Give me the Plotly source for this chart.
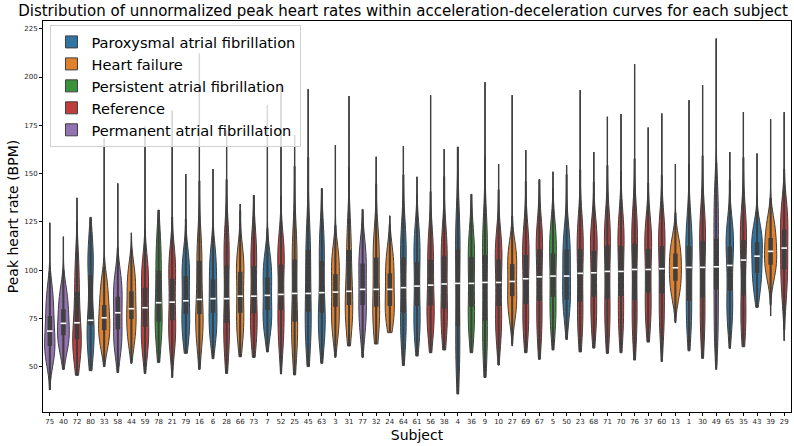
import plotly.graph_objects as go

subjects = ["75","40","72","80","33","58","44","59","78","21","79","16","6","28","66","73","7","52","25","45",
            "63","3","31","77","32","24","64","61","56","38","4","36","9","10","27","69","67","5","50","23",
            "68","71","70","76","37","60","13","1","30","49","65","35","43","39","29"]

# P=Paroxysmal AF, H=Heart failure, S=Persistent AF, R=Reference, M=Permanent AF
group_code = ["M","M","R","P","H","M","H","R","S","R","P","H","P","R","H","R","P","R","H","P",
              "P","H","H","M","H","H","P","P","R","R","P","S","S","R","H","R","R","S","P","R",
              "R","R","R","R","R","R","H","P","R","M","P","R","P","H","R"]

tail_low = [37.9,48.6,45.5,47.9,50.0,46.9,51.7,46.5,52.2,44.4,56.9,48.6,54.1,46.5,55.1,54.8,57.6,46.2,45.7,50.0,
            51.7,54.8,60.7,54.8,61.7,67.6,50.6,55.5,57.2,58.6,35.8,57.2,44.4,50.8,60.7,57.2,53.8,58.6,64.1,57.6,
            59.6,56.9,57.2,53.4,62.7,52.7,72.7,58.2,54.3,48.6,59.5,60.3,80.7,76.2,63.4]
tail_high = [124.5,117.3,137.4,127.3,168.1,144.9,119.3,174.5,131.1,182.5,149.7,212.1,152.3,172.1,134.2,138.8,185.4,196.6,169.9,193.7,
             142.3,164.7,190.1,131.4,158.7,128.1,164.2,148.3,190.6,162.6,163.8,139.3,197.3,154.9,190.6,162.1,146.9,150.9,154.3,193.2,
             161.1,179.4,180.8,206.6,173.8,181.1,154.9,188.0,195.8,219.9,161.1,181.8,160.4,178.2,181.8]
q1 = [60.7,66.2,64.1,71.5,68.9,69.3,74.6,70.7,73.3,74.1,77.2,77.2,77.9,72.7,77.9,77.6,79.3,79.3,73.3,78.4,
      77.9,81.0,81.9,81.9,81.0,81.4,77.9,81.4,81.7,80.0,71.0,81.0,73.8,81.4,86.5,82.4,84.1,86.2,84.8,83.6,
      86.2,85.2,86.5,84.5,88.3,87.9,94.5,84.1,85.8,90.0,89.3,86.9,98.6,102.8,100.3]
median = [68.4,72.4,72.7,74.0,75.3,77.9,80.0,80.5,83.1,83.4,84.1,84.8,85.2,85.2,86.5,86.5,86.9,87.4,87.9,87.9,
          88.3,88.6,89.0,90.0,90.0,90.0,90.9,91.7,92.2,92.8,93.1,93.1,93.6,93.6,94.1,95.5,96.5,96.9,96.9,98.3,
          98.6,99.3,99.3,100.3,100.3,100.7,101.2,101.4,101.4,101.7,102.4,105.2,107.2,109.7,111.4]
q3 = [76.2,79.7,88.6,97.4,81.9,86.2,89.0,90.9,99.7,95.5,96.9,104.8,95.2,102.4,99.1,102.1,96.2,102.9,105.5,110.4,
      104.8,97.9,110.4,103.4,106.5,98.3,106.5,104.3,105.3,107.4,110.7,106.9,107.8,105.5,103.1,107.8,110.7,108.6,110.7,111.0,
      110.0,112.8,112.4,113.8,111.0,112.4,108.6,112.4,115.2,116.2,112.2,115.5,114.5,116.6,121.1]

# representative values of the bulk of each subject's distribution
body = [
    [53,58,62,68,75,82,90], [58,64,67,72,78,83,90], [55,60,64,68,80,92,105], [56,64,71,74,97,105,113],
    [60,66,70,75,81,87,95], [58,64,70,78,85,91,97], [62,69,75,80,88,94,101], [58,65,71,80,90,97,104],
    [62,70,76,83,96,106,116], [60,67,74,83,95,102,108], [64,70,77,84,95,101,107], [64,70,75,80,95,106,115],
    [64,71,78,85,94,101,110], [58,66,73,85,102,110,119], [64,71,78,86,98,103,108], [63,70,77,86,100,108,117],
    [68,74,79,87,95,100,107], [60,70,79,87,102,108,114], [58,66,72,80,100,108,118], [60,68,76,85,98,110,120],
    [64,70,76,84,100,110,120], [66,74,80,88,97,103,110], [70,76,81,87,98,110,122], [68,76,82,90,100,106,112],
    [68,75,81,90,103,110,118], [72,78,82,90,97,103,110], [62,70,78,91,105,112,121], [64,72,80,91,104,111,120],
    [66,74,80,87,100,108,118], [66,74,80,90,104,110,118], [48,60,70,90,108,116,126], [66,74,80,92,104,110,118],
    [54,64,74,90,106,114,124], [64,72,80,92,104,110,116], [76,82,87,94,102,107,112], [66,74,82,95,106,112,120],
    [64,74,84,96,110,115,121], [68,78,86,97,108,114,122], [80,84,87,97,108,112,118], [66,76,84,98,110,116,124],
    [68,78,86,98,110,116,122], [66,76,85,99,112,118,126], [66,77,86,99,112,118,126], [64,76,84,100,113,120,128],
    [70,80,88,100,111,117,124], [66,78,88,100,112,118,126], [86,92,96,101,106,110,116], [68,78,86,100,110,116,124],
    [64,76,86,101,114,120,128], [62,76,90,102,116,128,142], [72,80,89,102,112,117,122], [68,76,86,104,114,120,128],
    [88,96,100,107,113,117,121], [96,102,105,110,115,120,126], [84,96,102,111,120,126,134],
]

group_names = {
    "P": "Paroxysmal atrial fibrillation",
    "H": "Heart failure",
    "S": "Persistent atrial fibrillation",
    "R": "Reference",
    "M": "Permanent atrial fibrillation",
}
legend_order = ["P", "H", "S", "R", "M"]
colors = {"P": "#3274a1", "H": "#e1812c", "S": "#3a923a", "R": "#c03d3e", "M": "#9372b2"}
DARK = "#3f3f3f"

fig = go.Figure()

# legend entries in the desired legend order
for g in legend_order:
    fig.add_trace(go.Violin(
        x=[subjects[0]], y=[None], name=group_names[g], legendgroup=g, legendrank=legend_order.index(g) + 1,
        fillcolor=colors[g], line=dict(color=DARK, width=1), opacity=1,
        points=False, box_visible=False, showlegend=True, hoverinfo="skip", scalegroup="legend",
    ))

for s, c, b, lo, hi, a, bq in zip(subjects, group_code, body, tail_low, tail_high, q1, q3):
    fig.add_trace(go.Violin(
        x=[s] * len(b), y=b, name=group_names[c], legendgroup=c, showlegend=False,
        scalegroup="all", fillcolor=colors[c], line=dict(color=DARK, width=1), opacity=1,
        points=False, box_visible=False, meanline_visible=False,
        spanmode="manual", span=[lo, hi], bandwidth=0.34 * (bq - a) + 2.2,
        hoverinfo="skip",
    ))

# tails (full range), whiskers, boxes
tx, ty, wx, wy, bx, by = [], [], [], [], [], []
for s, lo, hi, a, b in zip(subjects, tail_low, tail_high, q1, q3):
    tx += [s, s, s]
    ty += [lo, hi, None]
    iqr = b - a
    wx += [s, s, s]
    wy += [max(lo, a - 1.5 * iqr), min(hi, b + 1.5 * iqr), None]
    bx += [s, s, s]
    by += [a, b, None]

fig.add_trace(go.Scatter(x=tx, y=ty, mode="lines", line=dict(color=DARK, width=1.3),
                         showlegend=False, hoverinfo="skip"))
fig.add_trace(go.Scatter(x=wx, y=wy, mode="lines", line=dict(color=DARK, width=2),
                         showlegend=False, hoverinfo="skip"))
fig.add_trace(go.Scatter(x=bx, y=by, mode="lines", line=dict(color=DARK, width=4.5),
                         showlegend=False, hoverinfo="skip"))
fig.add_trace(go.Scatter(x=subjects, y=median, mode="markers",
                         marker=dict(symbol="line-ew", size=4, line=dict(color="white", width=1.6)),
                         showlegend=False, hoverinfo="skip"))

FONT = "DejaVu Sans"
fig.update_layout(
    width=794, height=446,
    margin=dict(l=43, r=3, t=21, b=34),
    paper_bgcolor="white", plot_bgcolor="white",
    font=dict(family=FONT, color="#000000"),
    violinmode="overlay", violingap=0.1, violingroupgap=0,
    title=dict(text="Distribution of unnormalized peak heart rates within acceleration-deceleration curves for each subject",
               x=0.5076, xref="container", xanchor="center", y=0.976, yanchor="middle",
               font=dict(size=15, family=FONT, color="#000000")),
    legend=dict(x=0.01, y=0.99, xanchor="left", yanchor="top",
                bgcolor="rgba(255,255,255,0.8)", bordercolor="#d0d0d0", borderwidth=1,
                font=dict(size=14.6, family=FONT, color="#000000"), traceorder="normal",
                tracegroupgap=0),
    showlegend=True,
)
fig.update_xaxes(
    type="category", categoryorder="array", categoryarray=subjects, range=[-0.5, 54.5],
    showline=True, mirror=True, linecolor="#000000", linewidth=1,
    ticks="outside", ticklen=3, tickcolor="#000000", tickfont=dict(size=7, color="#262626"),
    showgrid=False, zeroline=False,
    title=dict(text="Subject", font=dict(size=14, family=FONT), standoff=4),
)
fig.update_yaxes(
    range=[26.5, 229], tickvals=[50, 75, 100, 125, 150, 175, 200, 225],
    showline=True, mirror=True, linecolor="#000000", linewidth=1,
    ticks="outside", ticklen=3, tickcolor="#000000", tickfont=dict(size=7, color="#262626"),
    showgrid=False, zeroline=False,
    title=dict(text="Peak heart rate (BPM)", font=dict(size=14, family=FONT), standoff=2),
)

fig.write_html("out.html")
